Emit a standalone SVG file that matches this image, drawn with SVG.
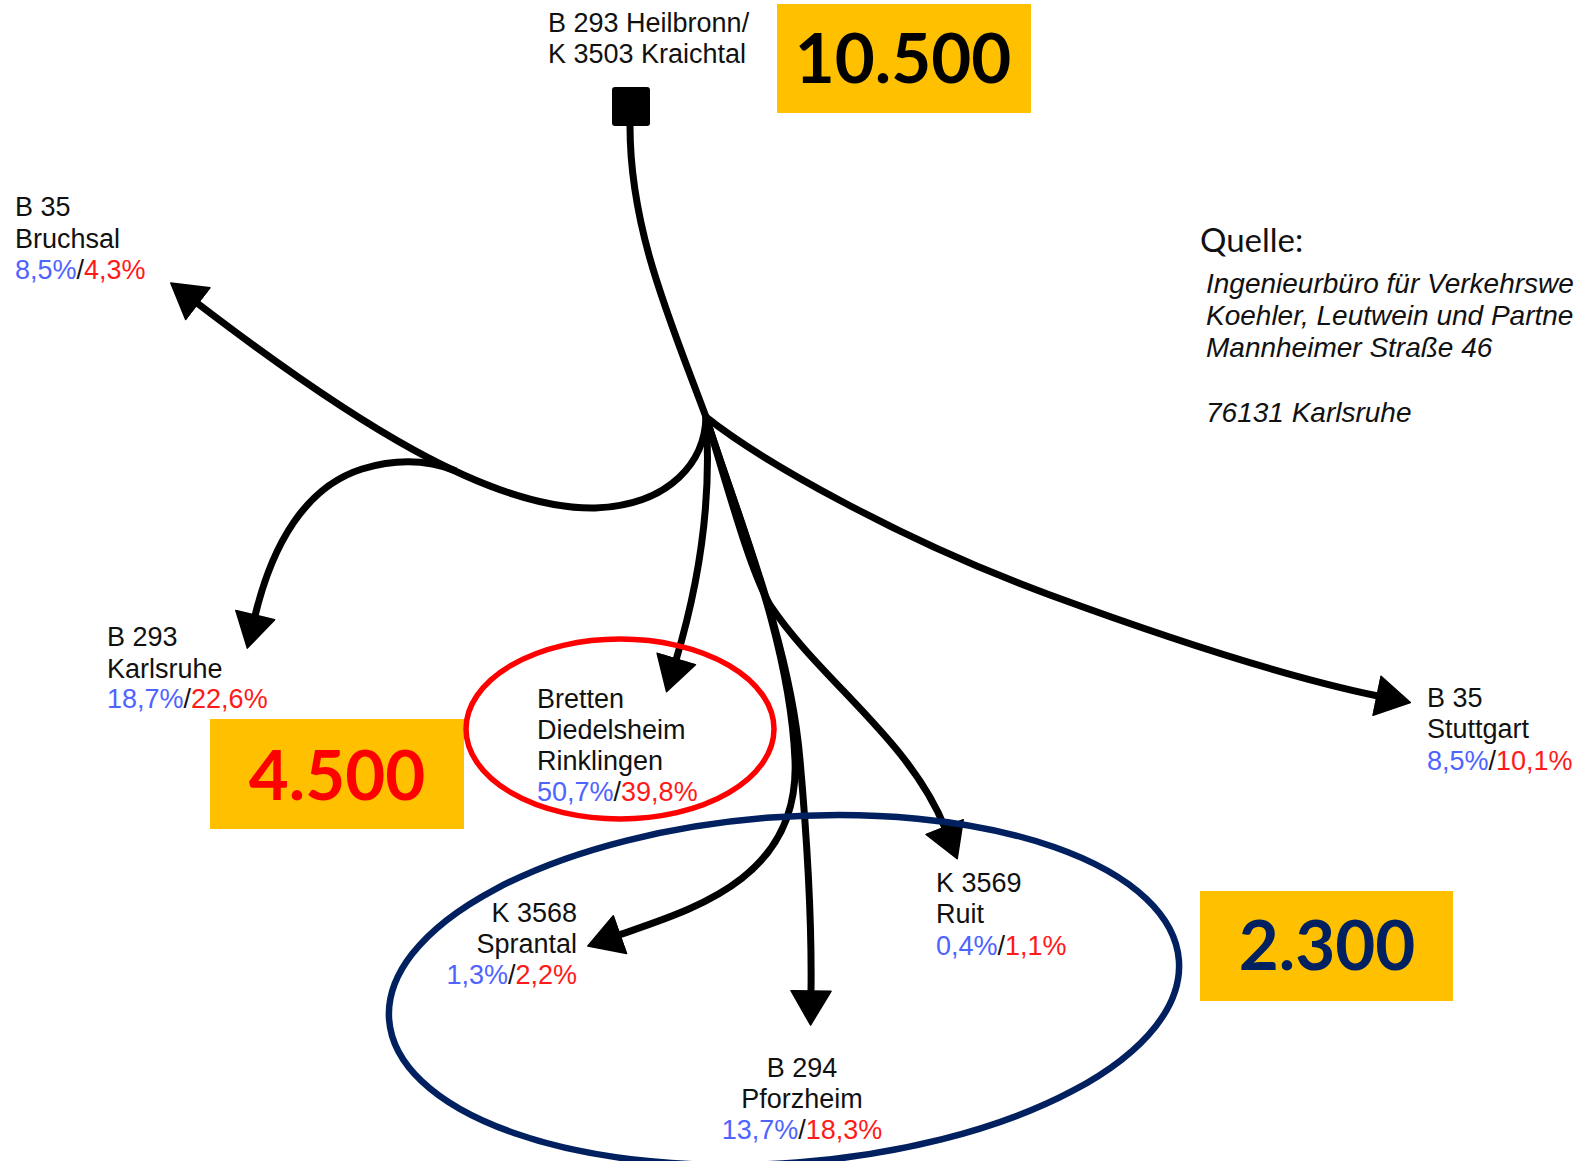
<svg xmlns="http://www.w3.org/2000/svg" width="1579" height="1161" viewBox="0 0 1579 1161">
<style>
.lbl{font-family:"Liberation Sans",Arial,sans-serif;font-size:27px;fill:#111}
.b{fill:#4f63ff}
.r{fill:#ff1a1a}
.k{fill:#111}
.src{font-family:"Liberation Sans",Arial,sans-serif;font-size:28px;font-style:italic;fill:#111}
.big{font-family:Lato,"Open Sans",sans-serif;font-weight:bold;font-size:69px;text-anchor:middle}
.box{fill:#ffc000}
.flow{fill:none;stroke:#000;stroke-width:7;stroke-linecap:butt;stroke-linejoin:round}
</style>
<defs>
<marker id="ah" markerUnits="userSpaceOnUse" viewBox="0 0 36 42" refX="2" refY="21" markerWidth="36" markerHeight="42" orient="auto">
<path d="M1,1 L35,21 L1,41 Z" fill="#000" stroke="#000" stroke-width="1.5" stroke-linejoin="round"/>
</marker>
</defs>
<rect width="1579" height="1161" fill="#fff"/>

<g id="connectors">
<path class="flow" d="M630,126 C630,230 670,320 706,417"/>
<path class="flow" marker-end="url(#ah)" d="M706,417 C705,460 672,505 595,508 C490,510 350,420 197,303"/>
<path class="flow" marker-end="url(#ah)" d="M456,471 C426,459 395,459 362,469 C305,487 272,545 255,616"/>
<path class="flow" marker-end="url(#ah)" d="M706,417 C712,500 700,580 676,660"/>
<path class="flow" marker-end="url(#ah)" d="M706,417 C760,460 900,540 1050,595 C1200,650 1300,680 1378,696"/>
<path class="flow" marker-end="url(#ah)" d="M706,417 C730,495 750,570 770,605 C820,680 910,740 945,828"/>
<path class="flow" marker-end="url(#ah)" d="M706,417 C735,510 790,640 800,760 C808,850 812,920 811,992"/>
<path class="flow" marker-end="url(#ah)" d="M706,417 C735,510 790,640 795,760 C800,880 690,910 619,935"/>
</g>

<g id="origin">
<rect x="612" y="87" width="38" height="39" rx="3" fill="#000"/>
<text class="lbl" x="548" y="32">B 293 Heilbronn/</text>
<text class="lbl" x="548" y="63">K 3503 Kraichtal</text>
</g>

<g id="total-10500">
<rect class="box" x="777" y="4" width="254" height="109"/>
<text class="big" x="903" y="83" fill="#000">10.500</text>
</g>

<g id="bruchsal">
<text class="lbl" x="15" y="216">B 35</text>
<text class="lbl" x="15" y="248">Bruchsal</text>
<text class="lbl" x="15" y="279"><tspan class="b">8,5%</tspan><tspan class="k">/</tspan><tspan class="r">4,3%</tspan></text>
</g>

<g id="karlsruhe">
<text class="lbl" x="107" y="646">B 293</text>
<text class="lbl" x="107" y="678">Karlsruhe</text>
<text class="lbl" x="107" y="708"><tspan class="b">18,7%</tspan><tspan class="k">/</tspan><tspan class="r">22,6%</tspan></text>
</g>

<g id="total-4500">
<rect class="box" x="210" y="719" width="254" height="110"/>
<text class="big" x="337" y="800" fill="#ff0000">4.500</text>
</g>

<g id="bretten">
<ellipse cx="620" cy="729" rx="154" ry="90" fill="none" stroke="#ff0000" stroke-width="5.5"/>
<text class="lbl" x="537" y="708">Bretten</text>
<text class="lbl" x="537" y="739">Diedelsheim</text>
<text class="lbl" x="537" y="770">Rinklingen</text>
<text class="lbl" x="537" y="801"><tspan class="b">50,7%</tspan><tspan class="k">/</tspan><tspan class="r">39,8%</tspan></text>
</g>

<g id="stuttgart">
<text class="lbl" x="1427" y="707">B 35</text>
<text class="lbl" x="1427" y="738">Stuttgart</text>
<text class="lbl" x="1427" y="770"><tspan class="b">8,5%</tspan><tspan class="k">/</tspan><tspan class="r">10,1%</tspan></text>
</g>

<g id="group-south">
<ellipse cx="784" cy="990" rx="396" ry="173" transform="rotate(-4.3 784 990)" fill="none" stroke="#002060" stroke-width="6.5"/>
</g>

<g id="sprantal">
<text class="lbl" x="577" y="922" text-anchor="end">K 3568</text>
<text class="lbl" x="577" y="953" text-anchor="end">Sprantal</text>
<text class="lbl" x="577" y="984" text-anchor="end"><tspan class="b">1,3%</tspan><tspan class="k">/</tspan><tspan class="r">2,2%</tspan></text>
</g>

<g id="ruit">
<text class="lbl" x="936" y="892">K 3569</text>
<text class="lbl" x="936" y="923">Ruit</text>
<text class="lbl" x="936" y="955"><tspan class="b">0,4%</tspan><tspan class="k">/</tspan><tspan class="r">1,1%</tspan></text>
</g>

<g id="pforzheim">
<text class="lbl" x="802" y="1077" text-anchor="middle">B 294</text>
<text class="lbl" x="802" y="1108" text-anchor="middle">Pforzheim</text>
<text class="lbl" x="802" y="1139" text-anchor="middle"><tspan class="b">13,7%</tspan><tspan class="k">/</tspan><tspan class="r">18,3%</tspan></text>
</g>

<g id="total-2300">
<rect class="box" x="1200" y="891" width="253" height="110"/>
<text class="big" x="1327" y="970" fill="#002060">2.300</text>
</g>

<g id="source">
<text x="1200" y="252" font-family="Lato,'Open Sans',sans-serif" font-size="33" fill="#111">Quelle:</text>
<text class="src" x="1206" y="293">Ingenieurbüro für Verkehrswe</text>
<text class="src" x="1206" y="325">Koehler, Leutwein und Partne</text>
<text class="src" x="1206" y="357">Mannheimer Straße 46</text>
<text class="src" x="1206" y="422">76131 Karlsruhe</text>
</g>
</svg>
